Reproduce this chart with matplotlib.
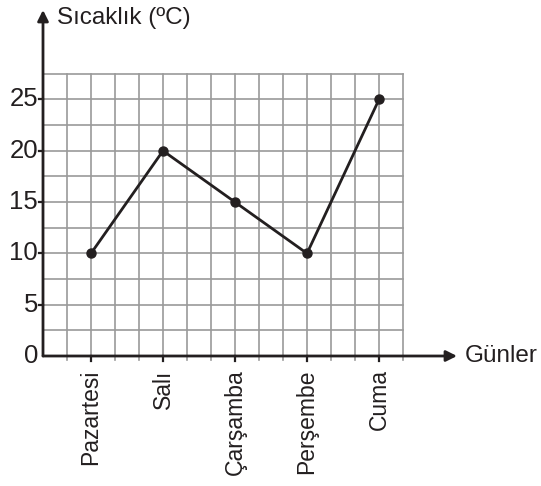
import numpy as np
import matplotlib
matplotlib.use("Agg")
import matplotlib.pyplot as plt

plt.rcParams['font.family'] = ['Liberation Sans', 'DejaVu Sans']

# veriler
gunler = ['Pazartesi', 'Salı', 'Çarşamba', 'Perşembe', 'Cuma']
sicaklik = [10, 20, 15, 10, 25]
y_ticks = [0, 5, 10, 15, 20, 25]

ink = '#231f20'
grid_col = '#9a9a9a'

fig = plt.figure(figsize=(5.41, 4.86), dpi=100)
# eksen alani: orijin (43, 356) piksel
W, H = 541, 486
x0, x1 = 43, 470
y0, y1 = 356, 8
ax = fig.add_axes([x0 / W, 1 - y0 / H, (x1 - x0) / W, (y0 - y1) / H])

xs = np.arange(len(gunler))
xmin = -2 / 3
ax.set_xlim(xmin, xmin + (x1 - x0) / 72)
ax.set_ylim(0, (y0 - y1) / 10.26)

# izgara
gx_right = 13 / 3
gy_top = 27.5
for gx in np.arange(xmin + 1 / 3, gx_right + 0.01, 1 / 3):
    ax.plot([gx, gx], [-0.35, gy_top], color=grid_col, lw=1.2, zorder=1, clip_on=False)
for gy in np.arange(2.5, gy_top + 0.01, 2.5):
    ax.plot([xmin, gx_right], [gy, gy], color=grid_col, lw=1.2, zorder=1)

# gun isaretleri (kalin cizgi)
for x in xs:
    ax.plot([x, x], [-0.5, 0], color=ink, lw=1.6, zorder=3, clip_on=False)
for t in y_ticks[1:]:
    ax.plot([xmin - 0.06, xmin], [t, t], color=ink, lw=1.6, zorder=3, clip_on=False)

# eksen oklari
ax.annotate('', xy=(xmin + (457 - x0) / 72, 0), xytext=(xmin, 0),
            arrowprops=dict(arrowstyle='-|>', lw=2, color=ink, mutation_scale=16,
                            shrinkA=0, shrinkB=0), annotation_clip=False, zorder=4)
ax.annotate('', xy=(xmin, (y0 - 10) / 10.26), xytext=(xmin, 0),
            arrowprops=dict(arrowstyle='-|>', lw=2, color=ink, mutation_scale=16,
                            shrinkA=0, shrinkB=0), annotation_clip=False, zorder=4)

# veri cizgisi
ax.plot(xs, sicaklik, color=ink, lw=2, marker='o', markersize=6.5, zorder=5)

for s in ax.spines.values():
    s.set_visible(False)
ax.set_xticks([])
ax.set_yticks([])

# etiketler
for t in y_ticks:
    ax.text(xmin - 0.07, t, str(t), ha='right', va='center', fontsize=18.5, color=ink)
for x, g in zip(xs, gunler):
    ax.text(x, -1.3, g, ha='center', va='top', rotation=90, fontsize=16.5, color=ink)

ax.text(xmin + (465 - x0) / 72, 0, 'Günler', ha='left', va='center', fontsize=17.5, color=ink)
ax.text(xmin + (57 - x0) / 72, (y0 - 18) / 10.26, 'Sıcaklık (ºC)', ha='left', va='center',
        fontsize=17.5, color=ink)

fig.savefig('out.png', dpi=100)
